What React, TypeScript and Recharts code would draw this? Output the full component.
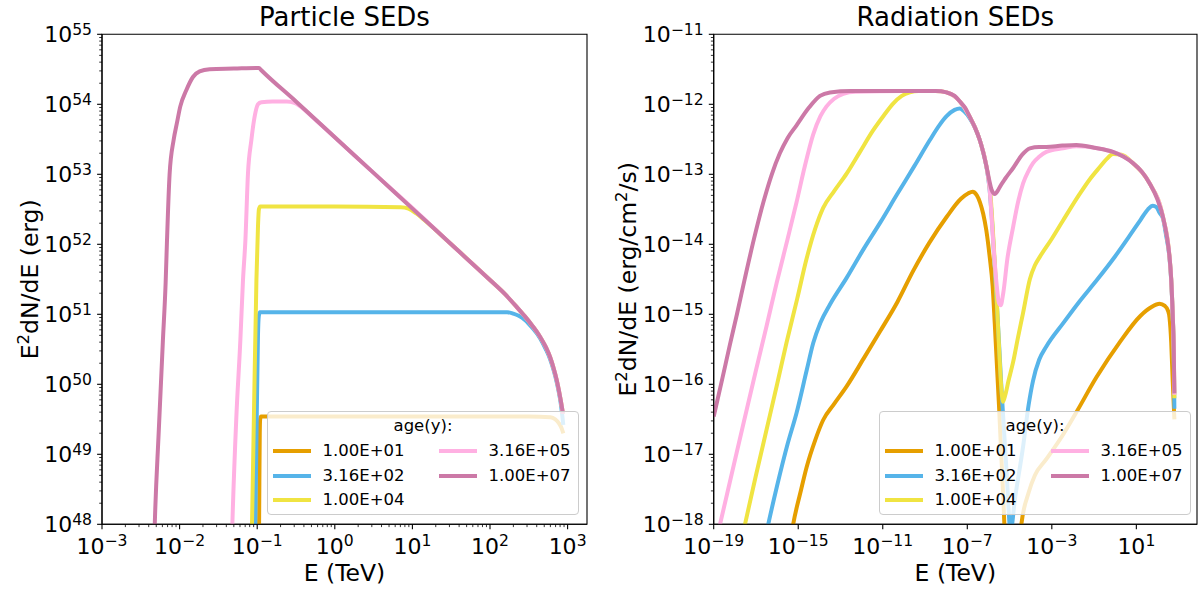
import { LineChart, Line, XAxis, YAxis, ReferenceArea } from "recharts";

const FONT = "DejaVu Sans, sans-serif";

const ages = ["1.00E+01", "3.16E+02", "1.00E+04", "3.16E+05", "1.00E+07"];
const colors = ["#E69F00", "#56B4E9", "#F0E442", "#FFB0E2", "#CC79A7"];

// particle spectra: [log10 E (TeV), log10 E^2 dN/dE (erg)]
const particleAge1 = [
  [-0.978, 47.6], [-0.972, 48.6], [-0.967, 49.3], [-0.962, 49.5], [-0.95, 49.54], [-0.5, 49.54],
  [0.5, 49.54], [1.5, 49.54], [2.5, 49.54], [2.78, 49.53], [2.84, 49.5], [2.89, 49.44],
  [2.92, 49.38], [2.945, 49.3],
];
const particleAge2 = [
  [-1.03, 47.6], [-1.022, 48.2], [-1.005, 49.6], [-0.99, 50.7], [-0.98, 50.97], [-0.965, 51.03],
  [-0.9, 51.03], [0, 51.03], [1, 51.03], [2.0, 51.03], [2.22, 51.03], [2.3, 51.01],
  [2.37, 50.98], [2.45, 50.92], [2.55, 50.8], [2.645, 50.66], [2.72, 50.5], [2.774, 50.36],
  [2.82, 50.2], [2.86, 50.03], [2.89, 49.87], [2.91, 49.74], [2.945, 49.42],
];
const particleAge3 = [
  [-1.075, 47.6], [-1.067, 48.0], [-1.04, 49.7], [-1.01, 51.49], [-0.99, 52.25], [-0.978, 52.5],
  [-0.96, 52.54], [0, 52.54], [0.85, 52.53], [0.95, 52.51], [1.05, 52.44], [1.15, 52.35],
  [1.5, 52.0], [2.0, 51.49], [2.2, 51.28], [2.34, 51.11], [2.45, 50.97], [2.55, 50.83],
  [2.645, 50.68], [2.72, 50.53], [2.774, 50.39], [2.82, 50.23], [2.86, 50.06], [2.89, 49.9],
  [2.91, 49.78], [2.94, 49.58],
];
const particleAge4 = [
  [-1.33, 47.6], [-1.32, 48.0], [-1.27, 49.5], [-1.217, 50.63], [-1.183, 51.49], [-1.152, 52.06],
  [-1.119, 53.01], [-1.075, 53.49], [-1.032, 53.83], [-0.99, 54.0], [-0.946, 54.03], [-0.8, 54.04],
  [-0.62, 54.04], [-0.52, 54.02], [-0.42, 53.95], [-0.3, 53.83], [0, 53.53], [0.5, 53.02],
  [1.0, 52.52], [1.5, 52.0], [2.0, 51.49], [2.2, 51.28], [2.34, 51.11], [2.45, 50.97],
  [2.55, 50.83], [2.645, 50.68], [2.72, 50.53], [2.774, 50.39], [2.82, 50.23], [2.86, 50.06],
  [2.89, 49.9], [2.91, 49.78], [2.94, 49.58],
];
const particleAge5 = [
  [-2.33, 47.6], [-2.32, 48.0], [-2.27, 49.3], [-2.215, 50.63], [-2.18, 51.45], [-2.164, 52.0],
  [-2.129, 53.0], [-2.077, 53.49], [-2.035, 53.73], [-1.991, 53.97], [-1.914, 54.2],
  [-1.828, 54.39], [-1.742, 54.47], [-1.613, 54.5], [-1.3, 54.51], [-1.0, 54.52], [-0.977, 54.52],
  [-0.95, 54.49], [-0.5, 54.04], [0, 53.53], [0.5, 53.02], [1.0, 52.51], [1.5, 52.0],
  [2.0, 51.49], [2.2, 51.28], [2.34, 51.11], [2.45, 50.97], [2.55, 50.83], [2.645, 50.68],
  [2.72, 50.53], [2.774, 50.39], [2.82, 50.23], [2.86, 50.06], [2.89, 49.9], [2.91, 49.78],
  [2.94, 49.58],
];

// radiation spectra: [log10 E (TeV), log10 E^2 dN/dE (erg/cm^2/s)]
const radiationAge1 = [
  [-15.4, -18.3], [-15.24, -18.0], [-14.9, -17.55], [-14.6, -17.18], [-14.2, -16.8],
  [-13.82, -16.51], [-13.3, -16.28], [-12.71, -16.03], [-11.9, -15.63], [-11.14, -15.25],
  [-10.3, -14.82], [-9.56, -14.38], [-8.8, -13.98], [-7.98, -13.61], [-7.3, -13.35],
  [-6.95, -13.27], [-6.75, -13.25], [-6.55, -13.3], [-6.4, -13.4], [-6.25, -13.56],
  [-6.1, -13.8], [-5.94, -14.18], [-5.8, -14.6], [-5.7, -15.13], [-5.5, -16.3], [-5.3, -17.6],
  [-5.2, -18.3], [-4.85, -19.2], [-4.6, -18.5], [-4.44, -18.0], [-4.1, -17.55], [-3.8, -17.3],
  [-3.26, -17.07], [-2.47, -16.72], [-1.84, -16.4], [-0.89, -15.9], [0.21, -15.4], [1.2, -15.02],
  [1.7, -14.9], [2.1, -14.85], [2.35, -14.88], [2.5, -14.95], [2.57, -15.05], [2.65, -15.4],
  [2.72, -15.95], [2.8, -16.5],
];
const radiationAge2 = [
  [-16.6, -18.25], [-16.42, -18.0], [-16.0, -17.45], [-15.5, -16.85], [-15.08, -16.41],
  [-14.6, -15.8], [-14.29, -15.41], [-13.95, -15.12], [-13.5, -14.86], [-12.71, -14.48],
  [-11.93, -14.08], [-11.1, -13.68], [-10.35, -13.3], [-9.5, -12.88], [-8.77, -12.51],
  [-8.3, -12.29], [-7.98, -12.17], [-7.6, -12.08], [-7.35, -12.06], [-7.15, -12.1],
  [-6.88, -12.2], [-6.64, -12.33], [-6.41, -12.51], [-6.25, -12.68], [-6.09, -12.9],
  [-5.95, -13.2], [-5.8, -13.8], [-5.65, -14.6], [-5.5, -15.4], [-5.38, -16.08], [-5.15, -17.2],
  [-4.95, -18.1], [-4.75, -17.65], [-4.36, -16.89], [-4.1, -16.3], [-3.89, -15.95],
  [-3.6, -15.65], [-3.26, -15.46], [-2.47, -15.13], [-1.7, -14.82], [-0.84, -14.5], [0, -14.17],
  [0.7, -13.87], [1.2, -13.65], [1.55, -13.5], [1.78, -13.45], [1.95, -13.47], [2.1, -13.55],
  [2.26, -13.63], [2.4, -13.86], [2.57, -14.2], [2.65, -14.52], [2.72, -15.02], [2.77, -15.55],
  [2.8, -16.35],
];
const radiationAge3 = [
  [-17.8, -18.4], [-17.52, -18.0], [-17.0, -17.3], [-16.5, -16.65], [-16.0, -16.0],
  [-15.55, -15.4], [-15.05, -14.78], [-14.6, -14.2], [-14.2, -13.78], [-13.82, -13.48],
  [-13.3, -13.24], [-12.71, -12.99], [-12.1, -12.69], [-11.45, -12.37], [-10.95, -12.16],
  [-10.51, -11.99], [-10.1, -11.88], [-9.72, -11.83], [-9.3, -11.81], [-8.5, -11.81],
  [-7.98, -11.83], [-7.35, -11.96], [-6.88, -12.18], [-6.41, -12.51], [-6.09, -12.89],
  [-5.9, -13.3], [-5.75, -14.0], [-5.62, -14.7], [-5.5, -15.45], [-5.4, -16.0], [-5.31, -16.25],
  [-5.2, -16.15], [-5.05, -15.95], [-4.83, -15.68], [-4.6, -15.33], [-4.36, -14.98],
  [-4.04, -14.5], [-3.8, -14.3], [-3.57, -14.18], [-3.0, -13.92], [-2.47, -13.66],
  [-1.68, -13.28], [-1.2, -13.07], [-0.74, -12.9], [-0.4, -12.78], [-0.11, -12.71],
  [0.3, -12.72], [0.84, -12.84], [1.63, -13.13], [2.26, -13.61], [2.57, -14.18], [2.65, -14.5],
  [2.72, -15.0], [2.77, -15.5], [2.8, -16.2],
];
const radiationAge4 = [
  [-19, -18.4], [-18.7, -18.0], [-18.2, -17.35], [-17.6, -16.57], [-17.0, -15.8],
  [-16.5, -15.17], [-16.02, -14.55], [-15.5, -13.92], [-15.08, -13.4], [-14.7, -12.9],
  [-14.29, -12.43], [-13.95, -12.17], [-13.66, -12.03], [-13.3, -11.92], [-12.87, -11.85],
  [-12.3, -11.82], [-10, -11.81], [-8.5, -11.81], [-7.98, -11.83], [-7.35, -11.96],
  [-6.88, -12.18], [-6.41, -12.51], [-6.09, -12.89], [-5.94, -13.22], [-5.78, -13.94],
  [-5.62, -14.55], [-5.5, -14.84], [-5.42, -14.87], [-5.3, -14.7], [-5.1, -14.2],
  [-4.83, -13.75], [-4.6, -13.4], [-4.36, -13.13], [-4.1, -12.95], [-3.89, -12.84],
  [-3.6, -12.75], [-3.26, -12.68], [-2.47, -12.63], [-1.84, -12.6], [-0.11, -12.68],
  [0.84, -12.84], [1.63, -13.13], [2.26, -13.61], [2.57, -14.18], [2.65, -14.5], [2.72, -15.0],
  [2.77, -15.5], [2.8, -16.15],
];
const radiationAge5 = [
  [-19, -16.46], [-18.6, -15.93], [-18.23, -15.43], [-17.9, -15.0], [-17.52, -14.48],
  [-17.1, -13.93], [-16.65, -13.4], [-16.25, -13.0], [-15.87, -12.7], [-15.5, -12.48],
  [-15.08, -12.3], [-14.5, -12.05], [-13.97, -11.88], [-13.5, -11.83], [-12.5, -11.81],
  [-10, -11.81], [-8.5, -11.81], [-7.98, -11.83], [-7.6, -11.88], [-7.35, -11.96],
  [-7.1, -12.05], [-6.88, -12.18], [-6.64, -12.33], [-6.41, -12.51], [-6.25, -12.68],
  [-6.09, -12.89], [-5.95, -13.1], [-5.85, -13.22], [-5.7, -13.28], [-5.55, -13.23],
  [-5.46, -13.18], [-5.2, -13.06], [-4.83, -12.91], [-4.4, -12.72], [-4.04, -12.63],
  [-3.6, -12.61], [-3.26, -12.61], [-2.5, -12.59], [-1.84, -12.58], [-1.0, -12.62],
  [-0.11, -12.68], [0.4, -12.75], [0.84, -12.84], [1.25, -12.96], [1.63, -13.13],
  [2.0, -13.36], [2.26, -13.61], [2.45, -13.9], [2.57, -14.18], [2.65, -14.5], [2.72, -15.0],
  [2.77, -15.5], [2.8, -16.13],
];

// tick exponents
const particleXExp = [-3, -2, -1, 0, 1, 2, 3];
const particleYExp = [48, 49, 50, 51, 52, 53, 54, 55];
const radiationXExp = [-19, -15, -11, -7, -3, 1];
const radiationYExp = [-18, -17, -16, -15, -14, -13, -12, -11];

const toPoints = (rows: number[][]) => rows.map(([e, f]) => ({ x: 10 ** e, y: 10 ** f }));

// decades plus the 2..9 minor ticks inside [lo, hi]
const withMinor = (exps: number[], lo: number, hi: number) => {
  const out: number[] = [];
  for (let n = Math.floor(lo); n <= Math.ceil(hi); n++) {
    for (let k = 1; k <= 9; k++) {
      const v = k * 10 ** n;
      if (Math.log10(v) >= lo - 1e-9 && Math.log10(v) <= hi + 1e-9) {
        if (k === 1 && !exps.includes(n)) continue;
        out.push(v);
      }
    }
  }
  return out;
};

const expOf = (v: number) => {
  const l = Math.log10(v);
  const e = Math.round(l);
  return Math.abs(l - e) < 1e-6 ? e : null;
};

const supText = (e: number) => (e < 0 ? "\u2212" + Math.abs(e) : String(e));

const TICK_FS = 22;
const SUP_FS = 15.6;

const XTick = (props: any) => {
  const { x, y, payload } = props;
  const e = expOf(payload.value);
  const major = e !== null;
  return (
    <g>
      <line x1={x} x2={x} y1={y} y2={y + (major ? 4.9 : 2.8)} stroke="#000" strokeWidth={major ? 1.1 : 0.8} />
      {major && (
        <text x={x} y={y + 29.5} textAnchor="middle" fontFamily={FONT} fontSize={TICK_FS} fill="#000">
          10
          <tspan dy={-8.3} fontSize={SUP_FS}>{supText(e as number)}</tspan>
        </text>
      )}
    </g>
  );
};

const YTick = (props: any) => {
  const { x, y, payload } = props;
  const e = expOf(payload.value);
  const major = e !== null;
  return (
    <g>
      <line x1={x} x2={x - (major ? 4.9 : 2.8)} y1={y} y2={y} stroke="#000" strokeWidth={major ? 1.1 : 0.8} />
      {major && (
        <text x={x - 10} y={y + 8} textAnchor="end" fontFamily={FONT} fontSize={TICK_FS} fill="#000">
          10
          <tspan dy={-7.8} fontSize={SUP_FS}>{supText(e as number)}</tspan>
        </text>
      )}
    </g>
  );
};

const AgeLegend = ({ left }: { left: number }) => {
  const cell = (i: number, col: number, row: number) => (
    <div
      key={i}
      style={{
        position: "absolute",
        left: col === 0 ? 4.5 : 170.5,
        top: 39 + row * 24.5 - 10,
        height: 20,
        display: "flex",
        alignItems: "center",
      }}
    >
      <div style={{ width: 38, height: 4, background: colors[i] }} />
      <span style={{ marginLeft: 12, whiteSpace: "nowrap" }}>{ages[i]}</span>
    </div>
  );
  return (
    <div
      style={{
        position: "absolute",
        left,
        top: 411,
        width: 312,
        height: 104,
        boxSizing: "border-box",
        background: "rgba(255,255,255,0.8)",
        border: "1px solid #cccccc",
        borderRadius: 4,
        fontFamily: FONT,
        fontSize: 16.5,
        lineHeight: "20px",
        color: "#000",
      }}
    >
      <div style={{ position: "absolute", left: 0, right: 0, top: 4, textAlign: "center" }}>age(y):</div>
      {[0, 1, 2].map((i) => cell(i, 0, i))}
      {[3, 4].map((i) => cell(i, 1, i - 3))}
    </div>
  );
};

type PanelProps = {
  title: string;
  unit: string[];
  series: number[][][];
  xRange: [number, number];
  yRange: [number, number];
  xExp: number[];
  yExp: number[];
  xMinor: boolean;
  marginLeft: number;
  marginRight: number;
  yLabelX: number;
};

const Panel = (p: PanelProps) => {
  const xDomain = [10 ** p.xRange[0], 10 ** p.xRange[1]];
  const yDomain = [10 ** p.yRange[0], 10 ** p.yRange[1]];
  const xTicks = p.xMinor ? withMinor(p.xExp, p.xRange[0], p.xRange[1]) : p.xExp.map((e) => 10 ** e);
  const yTicks = withMinor(p.yExp, p.yRange[0], p.yRange[1]);
  const plotCx = p.marginLeft + 60 + (600 - p.marginLeft - 60 - p.marginRight) / 2;
  return (
    <LineChart
      width={600}
      height={590}
      margin={{ top: 34.3, right: p.marginRight, bottom: 25.7, left: p.marginLeft }}
      style={{ fontFamily: FONT }}
    >
      <XAxis
        dataKey="x"
        type="number"
        scale="log"
        domain={xDomain}
        allowDataOverflow
        ticks={xTicks}
        interval={0}
        height={40}
        tickSize={0}
        tickMargin={0}
        tickLine={false}
        axisLine={{ stroke: "#000", strokeWidth: 1.1 }}
        tick={(t: any) => <XTick {...t} />}
        label={{
          content: ({ viewBox }: any) => (
            <text
              x={viewBox.x + viewBox.width / 2}
              y={viewBox.y + 57}
              textAnchor="middle"
              fontFamily={FONT}
              fontSize={23.5}
              fill="#000"
            >
              E (TeV)
            </text>
          ),
        }}
      />
      <YAxis
        dataKey="y"
        type="number"
        scale="log"
        domain={yDomain}
        allowDataOverflow
        ticks={yTicks}
        interval={0}
        width={60}
        tickSize={0}
        tickMargin={0}
        tickLine={false}
        axisLine={{ stroke: "#000", strokeWidth: 1.1 }}
        tick={(t: any) => <YTick {...t} />}
        label={{
          content: ({ viewBox }: any) => {
            const cy = viewBox.y + viewBox.height / 2;
            // unit is split so that "cm" can carry a superscript 2
            const [u0, u1] = p.unit;
            return (
              <text
                x={p.yLabelX}
                y={cy}
                transform={`rotate(-90 ${p.yLabelX} ${cy})`}
                textAnchor="middle"
                fontFamily={FONT}
                fontSize={23.5}
                fill="#000"
              >
                E<tspan dy={-8.5} fontSize={16.5}>2</tspan>
                <tspan dy={8.5}>dN/dE ({u0}</tspan>
                {u1 !== undefined && (
                  <>
                    <tspan dy={-8.5} fontSize={16.5}>2</tspan>
                    <tspan dy={8.5}>{u1}</tspan>
                  </>
                )}
                <tspan>)</tspan>
              </text>
            );
          },
        }}
      />
      <ReferenceArea
        x1={xDomain[0]}
        x2={xDomain[1]}
        y1={yDomain[0]}
        y2={yDomain[1]}
        fill="none"
        stroke="#000"
        strokeWidth={1.1}
        fillOpacity={0}
        ifOverflow="visible"
      />
      {p.series.map((rows, i) => (
        <Line
          key={ages[i]}
          data={toPoints(rows)}
          dataKey="y"
          type="monotone"
          stroke={colors[i]}
          strokeWidth={4}
          dot={false}
          activeDot={false}
          isAnimationActive={false}
        />
      ))}
      <text x={plotCx} y={26} textAnchor="middle" fontFamily={FONT} fontSize={26} fill="#000">
        {p.title}
      </text>
    </LineChart>
  );
};

export default function App() {
  return (
    <div style={{ position: "absolute", left: 0, top: 0, width: 1200, height: 590, background: "#fff" }}>
      <div style={{ position: "absolute", left: 0, top: 0 }}>
        <Panel
          title="Particle SEDs"
          unit={["erg"]}
          series={[particleAge1, particleAge2, particleAge3, particleAge4, particleAge5]}
          xRange={[-3, 3.25]}
          yRange={[48, 55]}
          xExp={particleXExp}
          yExp={particleYExp}
          xMinor
          marginLeft={42}
          marginRight={13}
          yLabelX={38}
        />
      </div>
      <div style={{ position: "absolute", left: 600, top: 0 }}>
        <Panel
          title="Radiation SEDs"
          unit={["erg/cm", "/s"]}
          series={[radiationAge1, radiationAge2, radiationAge3, radiationAge4, radiationAge5]}
          xRange={[-19, 3.87]}
          yRange={[-18, -11]}
          xExp={radiationXExp}
          yExp={radiationYExp}
          xMinor={false}
          marginLeft={53.7}
          marginRight={3}
          yLabelX={36}
        />
      </div>
      <AgeLegend left={267} />
      <AgeLegend left={879} />
    </div>
  );
}
